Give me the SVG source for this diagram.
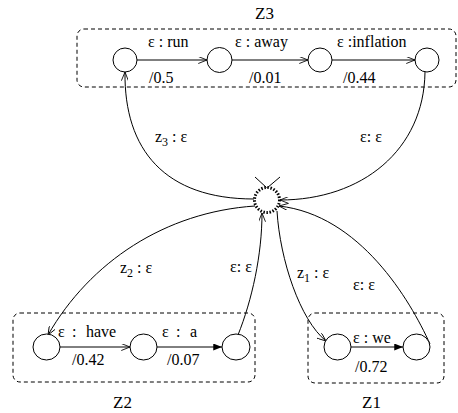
<svg xmlns="http://www.w3.org/2000/svg" width="458" height="413" viewBox="0 0 458 413">
<defs>
<style>
text{font-family:"Liberation Serif","Times New Roman",serif;font-size:16px;fill:#000}
.big{font-size:17px}
.sub{font-size:12px}
.box{fill:none;stroke:#000;stroke-width:1;stroke-dasharray:4 3}
.st{fill:#fff;stroke:#000;stroke-width:1}
.e{fill:none;stroke:#000;stroke-width:1}
.eo{marker-end:url(#open)}
.ef{marker-end:url(#fill)}
</style>
<marker id="open" viewBox="0 0 10 8" refX="10" refY="4" markerUnits="userSpaceOnUse" markerWidth="9" markerHeight="7" orient="auto">
<path d="M0,0 L10,4 L0,8" fill="none" stroke="#000" stroke-width="1"/>
</marker>
<marker id="fill" viewBox="0 0 10 8" refX="10" refY="4" markerUnits="userSpaceOnUse" markerWidth="12" markerHeight="7" orient="auto">
<path d="M0,0 L10,4 L0,8 z" fill="#000"/>
</marker>
</defs>

<g id="Z3">
<rect class="box" x="77" y="29" width="379" height="58" rx="7"/>
<text class="big" x="255" y="19">Z3</text>
</g>
<g id="Z2">
<rect class="box" x="13" y="313" width="242" height="69" rx="7"/>
<text class="big" x="113" y="408">Z2</text>
</g>
<g id="Z1">
<rect class="box" x="308" y="313" width="136" height="70" rx="7"/>
<text class="big" x="362" y="408">Z1</text>
</g>

<g id="connectors">
<line class="e eo" x1="137" y1="60" x2="207" y2="60"/>
<line class="e eo" x1="232" y1="60" x2="308" y2="60"/>
<line class="e eo" x1="332" y1="60" x2="415" y2="60"/>
<line class="e eo" x1="60" y1="347" x2="130" y2="347"/>
<line class="e ef" x1="157" y1="347" x2="222" y2="347"/>
<line class="e ef" x1="351" y1="347" x2="403" y2="347"/>
<path class="e eo" d="M254,199 C165,199 124,150 125,72"/>
<path class="e eo" d="M425,72 C424,150 362,200 280,200"/>
<path class="e eo" d="M255,206 C165,212 90,262 48,335"/>
<path class="e eo" d="M238,335 C252,300 262,255 262,213"/>
<path class="e eo" d="M277,211 C280,260 300,320 326,341"/>
<path class="e eo" d="M430,344 C410,300 360,215 279,206"/>
<line class="e" x1="255" y1="177" x2="267" y2="188"/>
<line class="e" x1="280" y1="177" x2="267" y2="188"/>
</g>

<g id="labels">
<text x="148" y="47">ε : run</text>
<text x="235" y="47">ε : away</text>
<text x="337" y="47">ε :inflation</text>
<text x="149" y="83">/0.5</text>
<text x="249" y="83">/0.01</text>
<text x="343" y="83">/0.44</text>
<text x="155" y="142">z<tspan class="sub" dy="4">3</tspan><tspan dy="-4"> : ε</tspan></text>
<text x="360" y="142">ε: ε</text>
<text x="120" y="273">z<tspan class="sub" dy="4">2</tspan><tspan dy="-4"> : ε</tspan></text>
<text x="230" y="272">ε: ε</text>
<text x="297" y="278">z<tspan class="sub" dy="4">1</tspan><tspan dy="-4"> : ε</tspan></text>
<text x="353" y="290">ε: ε</text>
<text x="58" y="337">ε <tspan x="72">: </tspan><tspan x="86">have</tspan></text>
<text x="162" y="337">ε <tspan x="176">: </tspan><tspan x="190">a</tspan></text>
<text x="72" y="365">/0.42</text>
<text x="167" y="365">/0.07</text>
<text x="353" y="343">ε : we</text>
<text x="355" y="372">/0.72</text>
</g>

<g id="z3-s0"><circle class="st" cx="125" cy="60" r="12"/></g>
<g id="z3-s1"><circle class="st" cx="219.5" cy="60" r="12.5"/></g>
<g id="z3-s2"><circle class="st" cx="320" cy="60" r="12"/></g>
<g id="z3-s3"><circle class="st" cx="427" cy="60" r="12"/></g>
<g id="z2-s0"><ellipse class="st" cx="46.5" cy="347" rx="13.5" ry="13"/></g>
<g id="z2-s1"><ellipse class="st" cx="143.5" cy="347" rx="13.5" ry="13"/></g>
<g id="z2-s2"><ellipse class="st" cx="236" cy="347" rx="14" ry="13"/></g>
<g id="z1-s0"><ellipse class="st" cx="337.5" cy="347" rx="13.5" ry="13"/></g>
<g id="z1-s1"><ellipse class="st" cx="416.5" cy="347" rx="13.5" ry="13"/></g>
<g id="center"><circle cx="267" cy="200" r="12.5" fill="#fff" stroke="#000" stroke-width="3" stroke-dasharray="1.5 1.6"/></g>
</svg>
